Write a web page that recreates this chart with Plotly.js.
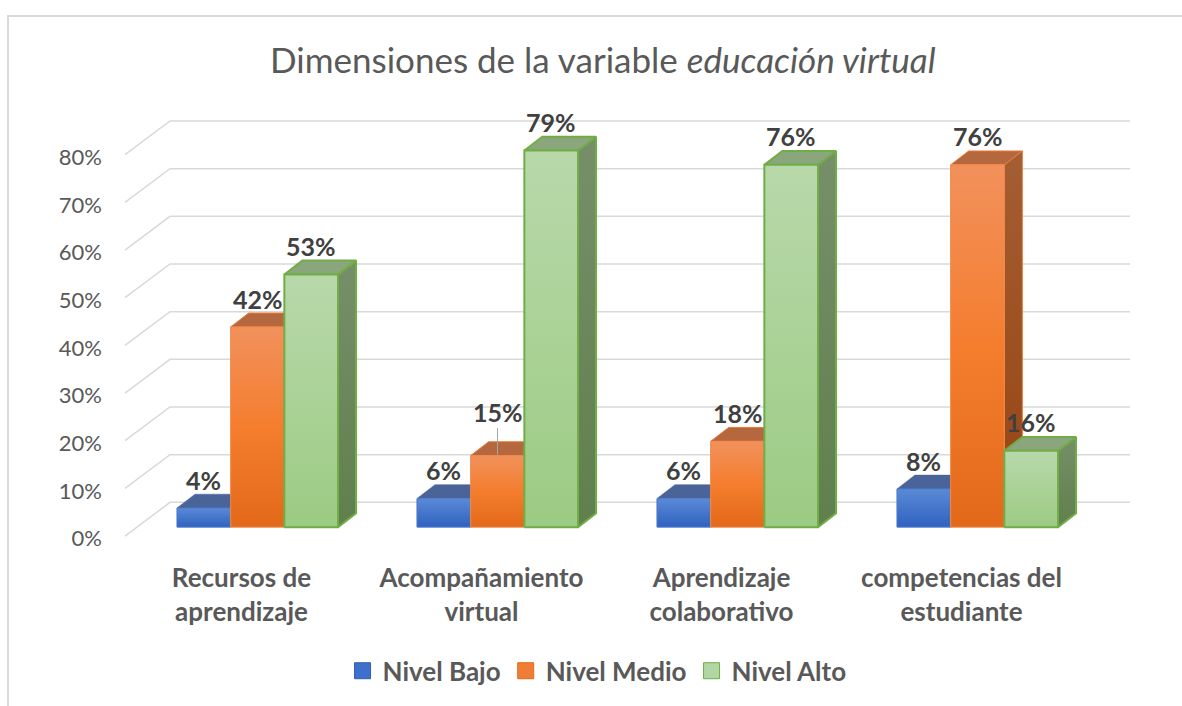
<!DOCTYPE html>
<html><head><meta charset="utf-8">
<script src="https://cdn.plot.ly/plotly-3.0.1.min.js"></script>
<style>
html,body{margin:0;padding:0;background:#fff;}
#chart{position:absolute;left:0;top:0;width:1182px;height:706px;}
#frame{position:absolute;left:7px;top:15px;width:1175px;height:691px;border-top:2px solid #D9D9D9;border-left:2px solid #D9D9D9;pointer-events:none;}
</style></head><body>
<div id="chart"></div><div id="frame"></div>
<script>
// ---- data ----
const categories = ["Recursos de aprendizaje", "Acompañamiento virtual", "Aprendizaje colaborativo", "competencias del estudiante"];
const tickLabels = ["Recursos de<br>aprendizaje", "Acompañamiento<br>virtual", "Aprendizaje<br>colaborativo", "competencias del<br>estudiante"];
const seriesNames = ["Nivel Bajo", "Nivel Medio", "Nivel Alto"];
const nivelBajo  = [0.04, 0.06, 0.06, 0.08];
const nivelMedio = [0.42, 0.15, 0.18, 0.76];
const nivelAlto  = [0.53, 0.79, 0.76, 0.16];
const yTicks = [0, 0.1, 0.2, 0.3, 0.4, 0.5, 0.6, 0.7, 0.8];
const yTickLabels = ["0%", "10%", "20%", "30%", "40%", "50%", "60%", "70%", "80%"];
const chartTitle = "Dimensiones de la variable <i>educación virtual</i>";

// ---- geometry (pixel-based projection of the 3D look) ----
const FONT = "Lato, 'Open Sans', sans-serif";
const M = {l: 120, r: 47, t: 100, b: 161};
const plotW = 1182 - M.l - M.r, plotH = 706 - M.t - M.b;
const PX = 240;               // px per category
const PY = 481;               // px per 100%
const X0 = 257.5 - M.l;       // px of first category centre inside plot
const Y0 = 531 - M.t;         // px of 0 inside plot (bar plane)
const xRange = [-X0 / PX, (plotW - X0) / PX];
const yRange = [-(plotH - Y0) / PY, Y0 / PY];
const W = 53.7 / PX;          // bar width
const DX = 18 / PX, DY = 14 / PY;      // bar depth offsets
const FRONT_DX = -132.5 / PX, FRONT_DY = -9 / PY;   // front edge of floor
const BACK_DX = -87.5 / PX, BACK_DY = 25 / PY;      // back wall start
const BACK_END = (1130 - 257.5) / PX;
const CAT_SHIFT = -16 / PX;
const LABEL_SHIFT = -2.5 / PY;

const styles = [
  {front: [[0, '#2F62BF'], [1, '#5A8AD6']], frontLine: '#4F7FD2', frontW: 1,
   top: '#4A6399', side: [[0, '#283F78'], [1, '#3A5590']], edge: '#4A6399', edgeW: 0.5,
   legend: '#3E6FCB', legendLine: '#2F5FB5'},
  {front: [[0, '#E3691A'], [0.5, '#F47D2E'], [1, '#F2915C']], frontLine: '#F08A4B', frontW: 1,
   top: '#B5673D', side: [[0, '#974412'], [1, '#A35E33']], edge: '#E97A35', edgeW: 1,
   legend: '#F07D35', legendLine: '#E06A1E'},
  {front: [[0, '#9CCB83'], [1, '#B8D8AA']], frontLine: '#70AD47', frontW: 2,
   top: '#8BA67D', side: [[0, '#617F4C'], [1, '#768F6A']], edge: '#70AD47', edgeW: 2,
   legend: '#B2D6A3', legendLine: '#70AD47'}
];

const values = [nivelBajo, nivelMedio, nivelAlto];
const data = [];
const annotations = [];
const leaderLabels = [[1, 1]]; // [series, category] labels drawn with a leader line
const labelFont = {family: FONT, size: 25, color: '#404040', weight: 'bold'};

for (let c = 0; c < categories.length; c++) {
  for (let s = 0; s < values.length; s++) {
    const v = values[s][c];
    const st = styles[s];
    const xc = c + (s - 1) * W;
    const xl = xc - W / 2, xr = xc + W / 2;
    const common = {type: 'scatter', mode: 'lines', fill: 'toself', showlegend: false, hoverinfo: 'skip'};
    data.push(Object.assign({}, common, {
      x: [xr, xr + DX, xr + DX, xr, xr], y: [0, DY, v + DY, v, 0],
      fillgradient: {type: 'vertical', colorscale: st.side},
      line: {color: st.edge, width: st.edgeW}
    }));
    data.push(Object.assign({}, common, {
      x: [xl, xr, xr + DX, xl + DX, xl], y: [v, v, v + DY, v + DY, v],
      fillcolor: st.top, line: {color: st.edge, width: st.edgeW}
    }));
    data.push(Object.assign({}, common, {
      x: [xl, xr, xr, xl, xl], y: [0, 0, v, v, 0],
      fillgradient: {type: 'vertical', colorscale: st.front},
      line: {color: st.frontLine, width: st.frontW}
    }));
    const leader = leaderLabels.some(p => p[0] === s && p[1] === c);
    const label = Math.round(v * 100) + '%';
    if (leader) {
      annotations.push({x: xc, y: v, xref: 'x', yref: 'y', text: label, showarrow: true,
        arrowhead: 0, arrowwidth: 1, arrowcolor: '#A6A6A6', ax: 0, ay: -44, standoff: 1,
        font: labelFont});
    } else {
      annotations.push({x: xc, y: v + DY + LABEL_SHIFT, xref: 'x', yref: 'y', text: label, showarrow: false,
        yanchor: 'bottom', font: labelFont});
    }
  }
}

// legend entries
for (let s = 0; s < seriesNames.length; s++) {
  data.push({type: 'scatter', mode: 'markers', x: [null], y: [null], name: seriesNames[s],
    marker: {symbol: 'square', size: 16, color: styles[s].legend, line: {color: styles[s].legendLine, width: 1}},
    hoverinfo: 'skip'});
}

// gridlines (floor edge + back wall)
const shapes = yTicks.map(t => ({
  type: 'path', xref: 'x', yref: 'y', layer: 'below',
  path: `M ${FRONT_DX} ${t + FRONT_DY} L ${BACK_DX} ${t + BACK_DY} L ${BACK_END} ${t + BACK_DY}`,
  line: {color: '#D9D9D9', width: 1.5}
}));

const layout = {
  width: 1182, height: 706,
  margin: M,
  paper_bgcolor: '#ffffff', plot_bgcolor: '#ffffff',
  hovermode: false,
  title: {text: chartTitle, x: 0.51, xref: 'container', xanchor: 'center', y: 1 - 61 / 706, yanchor: 'middle',
    font: {family: FONT, size: 35, color: '#595959'}},
  xaxis: {range: xRange, showgrid: false, zeroline: false, showline: false, ticks: '',
    tickvals: categories.map((_, i) => i + CAT_SHIFT), ticktext: tickLabels,
    tickfont: {family: FONT, size: 26, color: '#595959', weight: 'bold'}, ticklabelstandoff: 19, fixedrange: true},
  yaxis: {range: yRange, showgrid: false, zeroline: false, showline: false, ticks: '',
    tickvals: yTicks.map(t => t + FRONT_DY - 2.5 / PY), ticktext: yTickLabels,
    tickfont: {family: FONT, size: 22, color: '#595959'}, ticklabelstandoff: 17, fixedrange: true},
  legend: {orientation: 'h', x: 0.47, xanchor: 'center', y: (545 - 676) / plotH, yanchor: 'middle',
    font: {family: FONT, size: 26, color: '#595959', weight: 'bold'}},
  shapes: shapes,
  annotations: annotations
};

Plotly.newPlot('chart', data, layout, {displayModeBar: false, staticPlot: true});
</script>
</body></html>
